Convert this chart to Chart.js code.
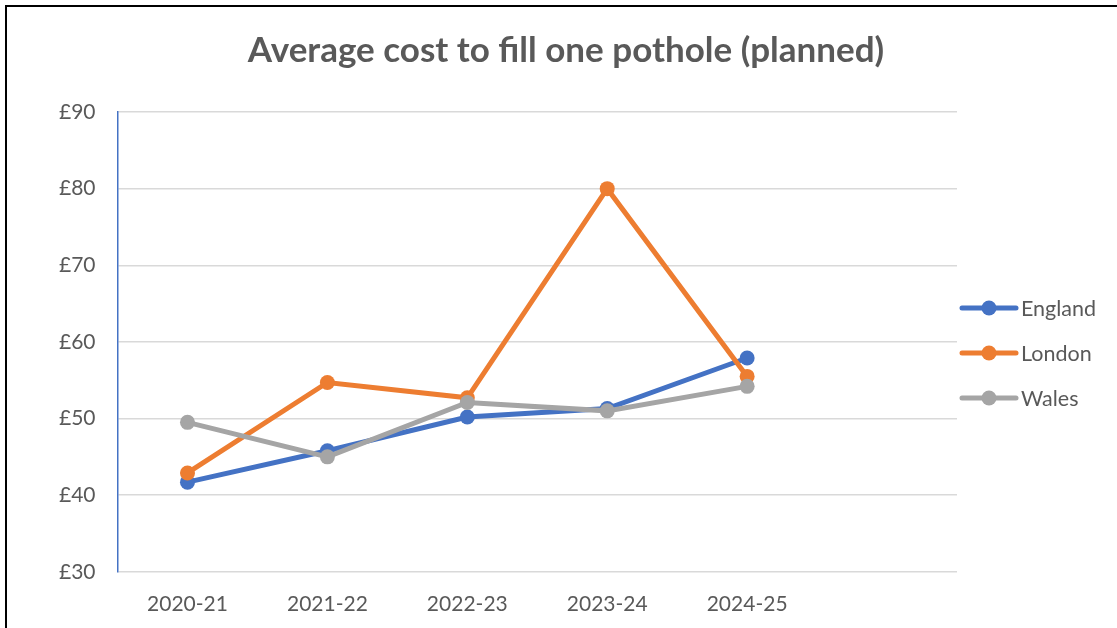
<!DOCTYPE html>
<html>
<head>
<meta charset="utf-8">
<title>Average cost to fill one pothole (planned)</title>
<script src="https://cdn.jsdelivr.net/npm/chart.js@4.4.1/dist/chart.umd.min.js"></script>
<style>
    html, body { margin: 0; padding: 0; background: #fff; }
    .wrap { position: relative; width: 1117px; height: 628px; overflow: hidden; }
    .frame {
        position: absolute; left: 5px; top: 5px; right: -5px; bottom: -5px;
        border-left: 2px solid #000; border-top: 2px solid #000;
        pointer-events: none;
    }
</style>
</head>
<body>
<div class="wrap">
    <canvas id="potholeChart" width="1117" height="628"></canvas>
    <div class="frame"></div>
</div>
<script>
// Data
const years = ["2020-21", "2021-22", "2022-23", "2023-24", "2024-25", ""];
const england = [41.7, 45.8, 50.2, 51.3, 57.9];
const london = [42.9, 54.7, 52.7, 80.0, 55.5];
const wales = [49.5, 45.0, 52.1, 51.0, 54.2];
const seriesNames = ["England", "London", "Wales"];
const seriesColors = ["#4472c4", "#ed7d31", "#a5a5a5"];
const yMin = 30, yMax = 90, yStep = 10;

const textColor = "#595959";
const fontFamily = "Lato, 'Open Sans', sans-serif";

// Title and legend drawn by hand so they sit where the original has them
const extrasPlugin = {
    id: "extras",
    afterDraw(chart) {
        const ctx = chart.ctx;
        const area = chart.chartArea;
        ctx.save();
        ctx.fillStyle = textColor;
        ctx.font = "bold 35px " + fontFamily;
        ctx.textAlign = "center";
        ctx.textBaseline = "middle";
        ctx.fillText("Average cost to fill one pothole (planned)", 566, 51);

        ctx.font = "21.5px " + fontFamily;
        ctx.textAlign = "left";
        chart.data.datasets.forEach((ds, i) => {
            const y = 308 + i * 45;
            const x0 = area.right + 5;
            ctx.strokeStyle = ds.borderColor;
            ctx.lineWidth = 5;
            ctx.lineCap = "round";
            ctx.beginPath();
            ctx.moveTo(x0, y);
            ctx.lineTo(x0 + 54, y);
            ctx.stroke();
            ctx.fillStyle = ds.borderColor;
            ctx.beginPath();
            ctx.arc(x0 + 27, y, 7.5, 0, Math.PI * 2);
            ctx.fill();
            ctx.fillStyle = textColor;
            ctx.fillText(ds.label, x0 + 59, y + 1);
        });
        ctx.restore();
    }
};

function makeSeries(label, values, color, order) {
    return {
        label: label,
        data: values,
        borderColor: color,
        backgroundColor: color,
        borderWidth: 5,
        pointRadius: 7.5,
        pointHoverRadius: 7.5,
        pointBorderWidth: 0,
        tension: 0,
        order: order
    };
}

document.addEventListener("DOMContentLoaded", () => {
    const ctx = document.getElementById("potholeChart").getContext("2d");
    new Chart(ctx, {
        type: "line",
        data: {
            labels: years,
            datasets: [
                makeSeries(seriesNames[0], england, seriesColors[0], 2),
                makeSeries(seriesNames[1], london, seriesColors[1], 1),
                makeSeries(seriesNames[2], wales, seriesColors[2], 0)
            ]
        },
        options: {
            responsive: false,
            animation: false,
            layout: {
                padding: { top: 112, right: 160, bottom: -9, left: 37 }
            },
            plugins: {
                legend: { display: false },
                title: { display: false },
                tooltip: { enabled: false }
            },
            scales: {
                x: {
                    offset: true,
                    grid: { display: false, drawTicks: false },
                    border: { display: false },
                    ticks: {
                        color: textColor,
                        padding: 20,
                        maxRotation: 0,
                        autoSkip: false,
                        font: { family: fontFamily, size: 21 }
                    }
                },
                y: {
                    min: yMin,
                    max: yMax,
                    grid: { color: "#d9d9d9", lineWidth: 1.5, drawTicks: false },
                    border: { display: true, color: "#4472c4", width: 1.5 },
                    ticks: {
                        stepSize: yStep,
                        color: textColor,
                        padding: 22,
                        font: { family: fontFamily, size: 21 },
                        callback: (v) => "£" + v
                    }
                }
            }
        },
        plugins: [extrasPlugin]
    });
});
</script>
</body>
</html>
